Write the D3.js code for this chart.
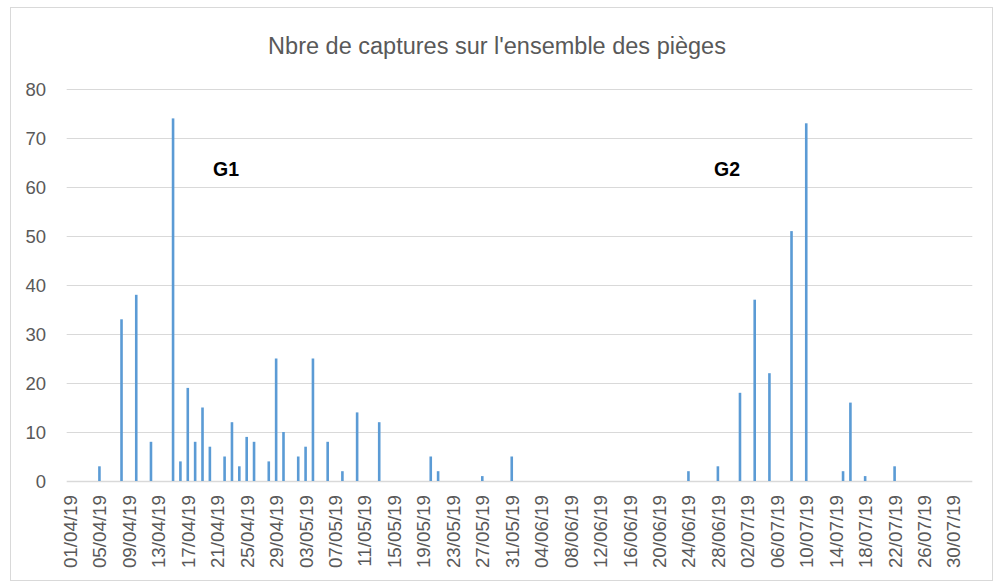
<!DOCTYPE html>
<html>
<head>
<meta charset="utf-8">
<script src="https://cdn.jsdelivr.net/npm/d3@7"></script>
<style>
  html, body { margin: 0; padding: 0; background: #fff; }
  svg { display: block; }
</style>
</head>
<body>
<svg id="chart" width="994" height="582"></svg>
<script>
// ---- Data ----
const chartTitle = "Nbre de captures sur l'ensemble des pièges";
const firstDay = "01/04/19";
const lastDay = "01/08/19";
const captureDates = [
  "05/04/19","08/04/19","10/04/19","12/04/19","15/04/19","16/04/19","17/04/19","18/04/19",
  "19/04/19","20/04/19","22/04/19","23/04/19","24/04/19","25/04/19","26/04/19","28/04/19",
  "29/04/19","30/04/19","02/05/19","03/05/19","04/05/19","06/05/19","08/05/19","10/05/19",
  "13/05/19","20/05/19","21/05/19","27/05/19","31/05/19",
  "24/06/19","28/06/19","01/07/19","03/07/19","05/07/19","08/07/19","10/07/19",
  "15/07/19","16/07/19","18/07/19","22/07/19"
];
const captureCounts = [
  3, 33, 38, 8, 74, 4, 19, 8,
  15, 7, 5, 12, 3, 9, 8, 4,
  25, 10, 5, 7, 25, 8, 2, 14,
  12, 5, 2, 1, 5,
  2, 3, 18, 37, 22, 51, 73,
  2, 16, 1, 3
];
const xTickLabels = [
  "01/04/19","05/04/19","09/04/19","13/04/19","17/04/19","21/04/19","25/04/19","29/04/19",
  "03/05/19","07/05/19","11/05/19","15/05/19","19/05/19","23/05/19","27/05/19","31/05/19",
  "04/06/19","08/06/19","12/06/19","16/06/19","20/06/19","24/06/19","28/06/19",
  "02/07/19","06/07/19","10/07/19","14/07/19","18/07/19","22/07/19","26/07/19","30/07/19"
];
const yTicks = [0, 10, 20, 30, 40, 50, 60, 70, 80];
const groupLabels = ["G1", "G2"];

// ---- Setup ----
const parse = d3.timeParse("%d/%m/%y");
const fmt = d3.timeFormat("%d/%m/%y");
const allDays = d3.timeDay.range(parse(firstDay), d3.timeDay.offset(parse(lastDay), 1)).map(fmt);

const svg = d3.select("#chart");
const plot = { left: 66.7, right: 972.3, top: 89, bottom: 481 };

const x = d3.scaleBand().domain(allDays).range([plot.left, plot.right]).padding(0);
const y = d3.scaleLinear().domain([0, 80]).range([plot.bottom, plot.top]);

const font = "'Liberation Sans', Arial, sans-serif";
const grey = "#595959";

// Outer frame
svg.append("rect")
  .attr("x", 10.5).attr("y", 7.5)
  .attr("width", 982).attr("height", 573)
  .attr("fill", "#fff").attr("stroke", "#d9d9d9").attr("stroke-width", 1);

// Title
svg.append("text")
  .attr("x", 497).attr("y", 54)
  .attr("text-anchor", "middle")
  .attr("font-family", font).attr("font-size", 23.5)
  .attr("fill", grey)
  .text(chartTitle);

// Gridlines
svg.append("g").selectAll("line")
  .data(yTicks)
  .join("line")
  .attr("x1", plot.left).attr("x2", plot.right)
  .attr("y1", d => Math.round(y(d)) + 0.5).attr("y2", d => Math.round(y(d)) + 0.5)
  .attr("stroke", "#d9d9d9").attr("stroke-width", d => d === 0 ? 1.5 : 1);

// Y axis labels
const yAxis = d3.axisLeft(y).tickValues(yTicks).tickSize(0).tickPadding(0);
const yg = svg.append("g")
  .attr("transform", `translate(46,0)`)
  .call(yAxis);
yg.select(".domain").remove();
yg.selectAll("text")
  .attr("font-family", font).attr("font-size", 18.5)
  .attr("fill", grey).attr("dy", "0.35em");

// X axis labels
const xAxis = d3.axisBottom(x).tickValues(xTickLabels).tickSize(0).tickPadding(0);
const xg = svg.append("g")
  .attr("transform", `translate(0,${plot.bottom})`)
  .call(xAxis);
xg.select(".domain").remove();
xg.selectAll("text")
  .attr("font-family", font).attr("font-size", 18.8)
  .attr("fill", grey)
  .attr("text-anchor", "end")
  .attr("transform", "rotate(-90)")
  .attr("x", -14).attr("y", 0).attr("dy", "0.35em");

// Bars
const barW = 2.6;
svg.append("g").selectAll("rect")
  .data(captureDates.map((d, i) => ({ date: d, value: captureCounts[i] })))
  .join("rect")
  .attr("x", d => x(d.date) + x.bandwidth() / 2 - barW / 2 - 0.4)
  .attr("width", barW)
  .attr("y", d => y(d.value))
  .attr("height", d => y(0) - y(d.value))
  .attr("fill", "#5b9bd5");

// Group labels
svg.append("g").selectAll("text")
  .data(groupLabels)
  .join("text")
  .attr("x", (d, i) => i === 0 ? 213 : 714)
  .attr("y", 176)
  .attr("font-family", font).attr("font-size", 19.5).attr("font-weight", "bold")
  .attr("fill", "#000")
  .text(d => d);
</script>
</body>
</html>
